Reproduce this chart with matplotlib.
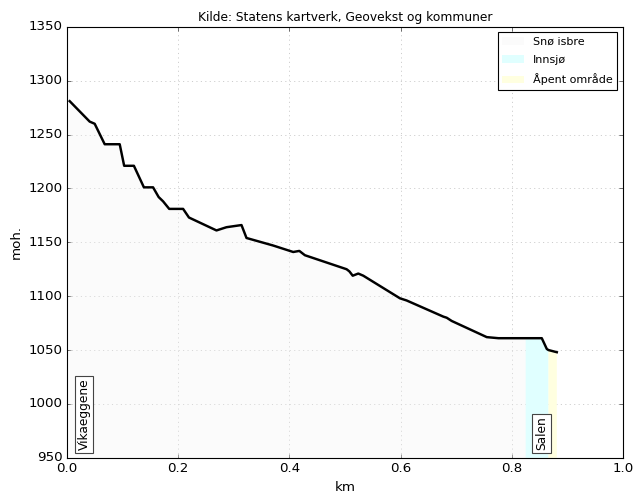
import matplotlib
matplotlib.use("Agg")
import matplotlib.pyplot as plt
import matplotlib.patches as mpatches
import numpy as np

# ── Profil (avstand i km, hoyde i moh.) ──────────────────────────────────────
distance = [0.005, 0.041, 0.050, 0.068, 0.095, 0.103, 0.1205, 0.1385, 0.155,
            0.165, 0.173, 0.184, 0.209, 0.2195, 0.269, 0.287, 0.314, 0.323,
            0.371, 0.407, 0.418, 0.428, 0.503, 0.508, 0.514, 0.524, 0.533,
            0.599, 0.611, 0.677, 0.683, 0.692, 0.755, 0.776, 0.825, 0.854,
            0.863, 0.866, 0.881]
elevation = [1281, 1262, 1260, 1241, 1241, 1221, 1221, 1201, 1201,
             1192, 1188, 1181, 1181, 1173, 1161, 1164, 1166, 1154,
             1147, 1141, 1142, 1138, 1125, 1123, 1119, 1121, 1119,
             1098, 1096, 1081, 1080, 1077, 1062, 1061, 1061, 1061,
             1051, 1050, 1048]

# Arealtyper langs profilen (start, slutt)
surface_names = ["Snø isbre", "Innsjø", "Åpent område"]
surface_start = [0.005, 0.825, 0.866]
surface_end = [0.825, 0.866, 0.881]
surface_colors = ["#f4f4f4", "#e0ffff", "#ffffe0"]
surface_alpha = [0.3, 1.0, 1.0]

# Stedsnavn
place_names = ["Vikaeggene", "Salen"]
place_km = [0.031, 0.854]

plt.style.use("classic")
fig, ax = plt.subplots(figsize=(637 / 80, 496 / 80), dpi=80)
fig.patch.set_facecolor("white")
fig.subplots_adjust(left=0.105, right=0.978, top=0.946, bottom=0.077)

x = np.array(distance)
y = np.array(elevation)
for start, end, color, alpha in zip(surface_start, surface_end,
                                    surface_colors, surface_alpha):
    mask = (x >= start) & (x <= end)
    ax.fill_between(x, 950, y, where=mask, facecolor=color, alpha=alpha,
                    edgecolor="none")

ax.plot(x, y, color="black", linewidth=2.2)

for name, km in zip(place_names, place_km):
    ax.text(km, 957, name, rotation=90, ha="center", va="bottom", fontsize=11,
            bbox=dict(facecolor="white", edgecolor="#444444", pad=2.5))

ax.set_xlim(0, 1)
ax.set_ylim(950, 1350)
ax.set_xlabel("km")
ax.set_ylabel("moh.")
ax.set_title("Kilde: Statens kartverk, Geovekst og kommuner", fontsize=11)
ax.set_axisbelow(True)
ax.grid(True, color="#c8c8c8", linestyle=":", linewidth=0.8)

handles = [mpatches.Patch(facecolor=c, alpha=a, edgecolor="none", label=n)
           for n, c, a in zip(surface_names, surface_colors, surface_alpha)]
ax.legend(handles=handles, loc="upper right", fontsize=10, labelspacing=0.75)

plt.savefig("out.png", dpi=80, facecolor="white")
